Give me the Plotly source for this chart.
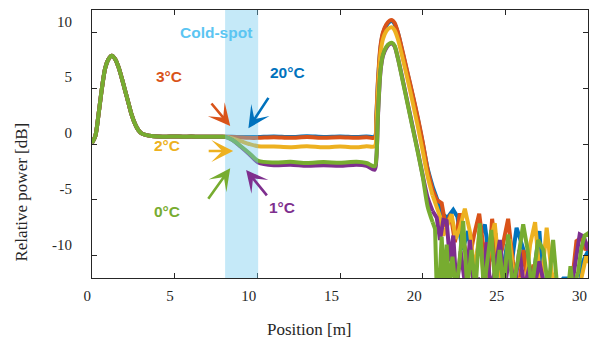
import plotly.graph_objects as go

# ---------------- data ----------------
x_ticks = [0, 5, 10, 15, 20, 25, 30]
y_ticks = [-10, -5, 0, 5, 10]

# launch pulse + fibre before the cold spot (shared by all traces)
pos_launch = [0.0, 0.2, 0.4, 0.6, 0.8, 1.0, 1.2, 1.4, 1.6, 1.8, 2.0, 2.2, 2.4, 2.6,
              2.8, 3.0, 3.3, 3.6, 4.0, 4.5, 5.0, 5.5, 6.0, 6.5, 7.0, 7.5, 8.05]
launch_db = [0.1, 0.7, 2.7, 5.0, 6.8, 7.6, 7.9, 7.6, 6.9, 5.9, 4.8, 3.7, 2.6, 1.8,
             1.25, 0.95, 0.8, 0.72, 0.68, 0.66, 0.68, 0.65, 0.67, 0.64, 0.66, 0.64, 0.64]

# cold spot, fibre, far-end reflection
pos_body = [8.5, 9.0, 9.5, 10.05, 11.0, 12.0, 13.0, 14.0, 15.0, 16.0, 16.6, 17.1,
            17.2, 17.3, 17.45, 17.6, 17.8, 18.0, 18.15, 18.3, 18.5, 18.8, 19.1,
            19.4, 19.7, 20.0, 20.3, 20.6]
body_20C = [0.64, 0.63, 0.62, 0.63, 0.68, 0.62, 0.70, 0.63, 0.68, 0.62, 0.68, 0.65,
            2.5, 5.6, 8.6, 9.9, 10.6, 10.95, 11.0, 10.75, 9.95, 8.1, 6.2,
            4.3, 2.3, 0.1, -2.2, -3.8]
body_3C = [0.62, 0.58, 0.55, 0.55, 0.60, 0.55, 0.62, 0.56, 0.60, 0.55, 0.60, 0.58,
           2.6, 5.8, 8.8, 10.0, 10.7, 11.05, 11.1, 10.85, 10.0, 8.2, 6.3,
           4.4, 2.4, 0.2, -2.3, -4.1]
body_2C = [0.5, 0.25, 0.0, -0.2, -0.22, -0.28, -0.2, -0.3, -0.22, -0.3, -0.2, -0.2,
           1.7, 5.0, 8.1, 9.4, 10.1, 10.4, 10.45, 10.2, 9.4, 7.6, 5.7,
           3.7, 1.6, -0.6, -2.9, -4.6]
body_1C = [0.35, -0.25, -0.9, -1.65, -1.9, -1.85, -1.95, -1.9, -1.95, -1.85, -1.95, -2.3,
           -1.3, 2.6, 6.5, 7.9, 8.6, 8.95, 9.0, 8.75, 7.7, 5.7, 3.6,
           1.5, -0.6, -2.8, -4.8, -6.0]
body_0C = [0.35, -0.2, -0.8, -1.5, -1.65, -1.6, -1.7, -1.62, -1.68, -1.6, -1.7, -2.0,
           -1.2, 2.8, 6.6, 8.0, 8.7, 9.0, 9.05, 8.8, 7.7, 5.6, 3.5,
           1.4, -0.7, -2.9, -5.6, -7.0]

# noise floor after the fibre end (values below -12 are clipped by the axis)
tail_pos_20C = [20.9, 21.2, 21.5, 21.85, 22.1, 22.4, 22.75, 23.1, 23.45, 23.76, 24.05,
                24.4, 24.75, 25.1, 25.4, 25.68, 26.0, 26.3, 26.6, 26.9, 27.06, 27.3,
                27.6, 28.0, 28.5, 28.9, 29.2, 29.45, 29.7, 30.0, 30.2]
tail_db_20C = [-5.0, -6.3, -6.6, -5.9, -6.5, -9.5, -7.8, -11.5, -8.4, -7.2, -10.5,
               -8.0, -12.5, -9.0, -10.5, -7.5, -9.0, -10.5, -13, -9.5, -7.8, -13,
               -13, -13, -12.05, -12.05, -13, -13, -10.5, -9.5, -9.0]
tail_pos_3C = [20.85, 21.15, 21.4, 21.7, 21.95, 22.25, 22.5, 22.8, 23.1, 23.42, 23.7,
               23.95, 24.2, 24.5, 24.8, 25.17, 25.45, 25.8, 26.1, 26.4, 26.7, 27.0,
               27.3, 27.7, 28.1, 28.5, 28.9, 29.1, 29.3, 29.6, 29.85, 30.2]
tail_db_3C = [-5.0, -5.3, -7.4, -6.3, -8.8, -6.2, -9.0, -10.5, -8.2, -6.25, -9.5,
              -12.5, -6.7, -11.0, -9.4, -6.7, -10.5, -13, -9.5, -13, -10.8, -13,
              -13, -13, -13, -13, -13, -11.5, -8.7, -8.4, -9.5, -8.5]
tail_pos_2C = [20.85, 21.05, 21.25, 21.5, 21.75, 22.0, 22.25, 22.55, 22.85, 23.15,
               23.45, 23.75, 24.05, 24.36, 24.65, 24.95, 25.25, 25.6, 25.9, 26.2,
               26.5, 26.8, 27.15, 27.5, 27.8, 28.1, 28.5, 29.0, 29.3, 29.6, 29.9, 30.2]
tail_db_2C = [-5.6, -6.5, -8.2, -7.2, -6.3, -8.5, -7.5, -5.8, -7.8, -11.5,
              -7.8, -13, -9.0, -7.1, -11.5, -13, -8.5, -13, -12.0, -13,
              -9.0, -7.0, -13, -7.5, -11.5, -13, -13, -13, -13, -12.0, -10.0, -11.0]
tail_pos_1C = [20.85, 21.05, 21.25, 21.45, 21.65, 21.85, 22.05, 22.3, 22.6, 22.86,
               23.1, 23.35, 23.6, 23.87, 24.1, 24.35, 24.67, 24.95, 25.25, 25.55,
               25.85, 26.15, 26.45, 26.75, 27.05, 27.4, 27.8, 28.2, 28.6, 29.0,
               29.25, 29.5, 29.75, 30.0, 30.2]
tail_db_1C = [-6.6, -8.6, -6.8, -6.9, -10.5, -8.2, -13, -9.6, -13, -8.6,
              -13, -12.0, -13, -8.8, -13, -11.5, -8.6, -13, -10.0, -13,
              -9.5, -13, -11.0, -13, -10.5, -13, -13, -13, -13, -13,
              -10.5, -8.1, -8.3, -9.5, -8.8]
tail_pos_0C = [20.75, 20.85, 21.0, 21.15, 21.3, 21.45, 21.6, 21.8, 22.0, 22.2, 22.45,
               22.7, 22.95, 23.2, 23.45, 23.7, 23.9, 24.15, 24.4, 24.65, 24.9, 25.17,
               25.45, 25.75, 26.08, 26.35, 26.6, 26.98, 27.3, 27.6, 27.89, 28.15,
               28.5, 28.8, 28.94, 29.1, 29.4, 29.6, 29.8, 30.0, 30.2]
tail_db_0C = [-7.6, -13, -13, -8.3, -13, -9.0, -13, -10.1, -13, -11.0, -6.9,
              -13, -9.5, -13, -7.1, -13, -10.5, -7.7, -13, -9.5, -13, -8.1,
              -13, -10.5, -7.2, -9.5, -13, -8.6, -9.5, -13, -8.6, -13,
              -13, -13, -10.95, -13, -11.5, -9.3, -8.2, -8.0, -8.5]

series_names = ["20°C", "3°C", "2°C", "1°C", "0°C"]
series_colors = ["#0072BD", "#D95319", "#EDB120", "#7E2F8E", "#77AC30"]
series_body = [body_20C, body_3C, body_2C, body_1C, body_0C]
series_tail_pos = [tail_pos_20C, tail_pos_3C, tail_pos_2C, tail_pos_1C, tail_pos_0C]
series_tail_db = [tail_db_20C, tail_db_3C, tail_db_2C, tail_db_1C, tail_db_0C]

cold_spot = [8.05, 10.05]

SERIF = "Liberation Serif"
SANS = "Liberation Sans"

# ---------------- figure ----------------
fig = go.Figure()
for name, col, body, tp, td in zip(series_names, series_colors, series_body,
                                   series_tail_pos, series_tail_db):
    # smooth part: launch pulse, fibre, end reflection
    fig.add_trace(go.Scatter(
        x=pos_launch + pos_body, y=launch_db + body,
        mode="lines", name=name,
        line=dict(color=col, width=4, shape="spline", smoothing=0.8),
        showlegend=False, hoverinfo="skip"))
    # noisy part: straight segments
    fig.add_trace(go.Scatter(
        x=pos_body[-1:] + tp, y=body[-1:] + td,
        mode="lines", name=name,
        line=dict(color=col, width=4),
        showlegend=False, hoverinfo="skip"))

# cold-spot band (drawn over the curves, semi-transparent)
fig.add_shape(type="rect", xref="x", yref="paper", x0=cold_spot[0], x1=cold_spot[1],
              y0=0, y1=1, fillcolor="rgba(110,200,238,0.4)", line_width=0, layer="above")

label_font = dict(family=SANS, size=15.5)
texts = [
    ("Cold-spot", 7.48, 9.97, "#5BC5F2"),
    ("3°C", 4.65, 6.01, "#D95319"),
    ("20°C", 11.83, 6.37, "#0072BD"),
    ("2°C", 4.51, -0.09, "#EDB120"),
    ("0°C", 4.55, -6.04, "#77AC30"),
    ("1°C", 11.49, -5.69, "#7E2F8E"),
]
for t, x, y, c in texts:
    fig.add_annotation(x=x, y=y, xref="x", yref="y", text="<b>%s</b>" % t,
                       showarrow=False, font=dict(color=c, **label_font))

# arrows: head position (data) + tail offset (pixels)
arrows = [
    (8.36, 1.61, -20, -24, "#D95319"),
    (9.46, 1.40, 21, -32, "#0072BD"),
    (8.54, -0.63, -26, 0, "#EDB120"),
    (8.36, -2.17, -23, 32, "#77AC30"),
    (9.32, -2.32, 22, 27, "#7E2F8E"),
]
for x, y, ax, ay, c in arrows:
    fig.add_annotation(x=x, y=y, xref="x", yref="y", ax=ax, ay=ay, text="",
                       showarrow=True, arrowhead=3, arrowsize=1.4, arrowwidth=2.6,
                       arrowcolor=c, standoff=0)

axis_font = dict(family=SERIF, size=15, color="#262626")
fig.update_xaxes(range=[0, 30], tickvals=x_ticks, ticktext=[str(v) for v in x_ticks],
                 ticks="inside", ticklen=5, tickcolor="#262626", showline=True,
                 linecolor="#262626", linewidth=1, mirror="ticks", showgrid=False,
                 zeroline=False, tickfont=axis_font, ticklabelposition="outside left",
                 ticklabelstandoff=4)
fig.update_yaxes(range=[-12, 12], tickvals=y_ticks, ticktext=[str(v) for v in y_ticks],
                 ticks="inside", ticklen=5, tickcolor="#262626", showline=True,
                 linecolor="#262626", linewidth=1, mirror="ticks", showgrid=False,
                 zeroline=False, tickfont=axis_font, ticklabelposition="outside top",
                 ticklabelstandoff=16)

title_font = dict(family=SERIF, size=17, color="#262626")
fig.add_annotation(text="Position [m]", xref="paper", yref="paper",
                   x=(309.2 - 92) / 496, y=-(330 - 278) / 269, showarrow=False,
                   font=title_font, xanchor="center", yanchor="middle")
fig.add_annotation(text="Relative power [dB]", xref="paper", yref="paper",
                   x=-(92 - 21.5) / 496, y=(278 - 191.7) / 269, showarrow=False,
                   font=title_font, textangle=-90, xanchor="center", yanchor="middle")

fig.update_layout(width=595, height=339, margin=dict(l=92, r=7, t=10, b=61),
                  paper_bgcolor="white", plot_bgcolor="white",
                  font=dict(family=SERIF))

fig.write_html("out.html")
